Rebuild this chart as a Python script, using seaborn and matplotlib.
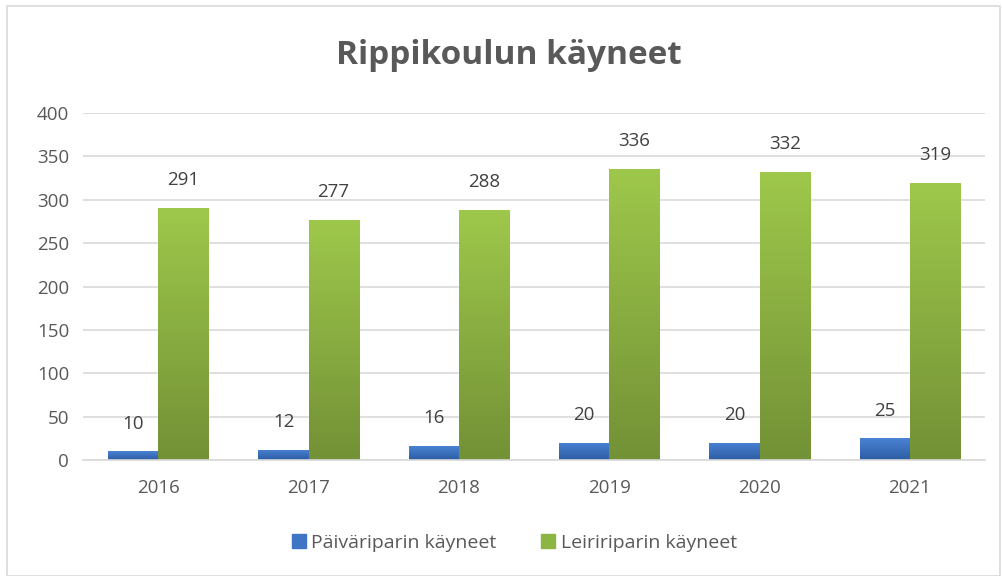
import numpy as np
import pandas as pd
import matplotlib.pyplot as plt
import matplotlib.patches as mpatches
import seaborn as sns

years = ['2016', '2017', '2018', '2019', '2020', '2021']
paivarippi = [10, 12, 16, 20, 20, 25]
leiririppi = [291, 277, 288, 336, 332, 319]
series = ['Päiväriparin käyneet', 'Leiririparin käyneet']

df = pd.DataFrame({
    'vuosi': years * 2,
    'määrä': paivarippi + leiririppi,
    'sarja': [series[0]] * len(years) + [series[1]] * len(years),
})

sns.set_style('white')
plt.rcParams['font.family'] = ['Open Sans', 'DejaVu Sans']
grey = '#595959'
colours = ['#3f75c4', '#8db543']
grads = [('#4a82d4', '#2c5da3'), ('#9ec84b', '#739136')]

fig = plt.figure(figsize=(10.03, 5.76), dpi=100)
ax = fig.add_axes([0.0828, 0.2014, 0.8994, 0.6024])
sns.barplot(data=df, x='vuosi', y='määrä', hue='sarja', palette=colours,
            width=0.667, ax=ax, legend=False)

# gradient fill for bars (light at top, darker at bottom)
for i, cont in enumerate(ax.containers):
    top, bot = grads[i]
    cmap = plt.matplotlib.colors.LinearSegmentedColormap.from_list('g', [bot, top])
    for bar, val in zip(cont, cont.datavalues):
        x0, w, h = bar.get_x(), bar.get_width(), bar.get_height()
        im = ax.imshow(np.linspace(0, 1, 100).reshape(-1, 1), cmap=cmap,
                       extent=[x0, x0 + w, 0, h], origin='lower',
                       aspect='auto', zorder=bar.get_zorder() + 0.1)
        im.set_clip_path(bar)
        ax.annotate(f'{int(val)}', (x0 + w / 2, h), xytext=(0, 20),
                    textcoords='offset points', ha='center', va='center',
                    fontsize=13.5, color='#404040')

ax.set_xlim(-0.5, len(years) - 0.5)
ax.set_ylim(0, 400)
ax.set_yticks(range(0, 401, 50))
ax.yaxis.grid(True, color='#d9d9d9', linewidth=1.2)
ax.set_axisbelow(True)
sns.despine(ax=ax, left=True)
ax.spines['bottom'].set_color('#d9d9d9')
ax.spines['bottom'].set_linewidth(1.2)
ax.tick_params(axis='both', length=0, labelsize=13.5, colors=grey)
ax.tick_params(axis='x', pad=14)
ax.tick_params(axis='y', pad=10)
ax.set_xlabel('')
ax.set_ylabel('')

fig.text(0.507, 0.903, 'Rippikoulun käyneet', ha='center', va='center',
         fontsize=24, fontweight='bold', color=grey)

handles = [mpatches.Patch(color=c) for c in colours]
fig.legend(handles, series, loc='center', bbox_to_anchor=(0.513, 0.058),
           ncol=2, frameon=False, fontsize=14, labelcolor=grey,
           handlelength=0.7, handleheight=0.7, handletextpad=0.3,
           columnspacing=2.3)

fig.patches.append(mpatches.Rectangle((0.007, 0.0), 0.99, 0.99,
                                      transform=fig.transFigure, fill=False,
                                      edgecolor='#d9d9d9', linewidth=1.2))

fig.savefig('out.png', dpi=100, facecolor='white')
